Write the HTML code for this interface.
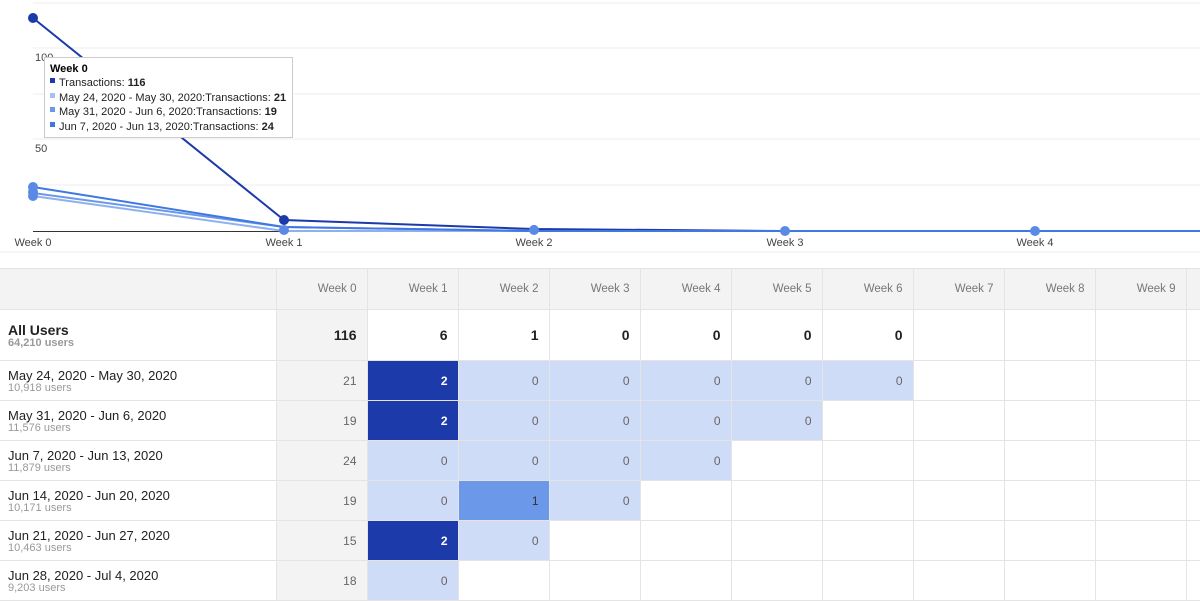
<!DOCTYPE html>
<html><head><style>
body{margin:0;width:1200px;height:600px;overflow:hidden;background:#fff;font-family:"Liberation Sans",sans-serif;position:relative}
table{position:absolute;left:0;top:268px;border-collapse:collapse;table-layout:fixed;width:1277px}
td{border:1px solid #e4e4e4;padding:0 10px 0 0;text-align:right;font-size:12px;color:#666;overflow:hidden;white-space:nowrap}
tr.h td{height:40px;background:#f3f3f3;color:#777;font-size:11.5px}
tr.a td{height:50px;font-size:14px;font-weight:bold;color:#222}
tr.r td{height:39px}
td.f{text-align:left;padding-left:8px;background:#fff;border-left:none}
td.g{background:#f3f3f3}
td.d{background:#1c3aa9;color:#fff;font-weight:bold}
td.l{background:#cfdcf7}
td.m{background:#6b98e9;color:#333}
.n{font-size:13px;color:#222}.s{font-size:11px;color:#999;line-height:11px}
tr.a .n{font-size:14px;font-weight:bold}.a .s{font-weight:bold}
</style></head><body>
<svg width="1200" height="260" style="position:absolute;left:0;top:0" font-family="Liberation Sans" font-size="11">
<g stroke="#ececec"><line x1="33" x2="1200" y1="3" y2="3"/><line x1="33" x2="1200" y1="48" y2="48"/><line x1="33" x2="1200" y1="94" y2="94"/><line x1="33" x2="1200" y1="139" y2="139"/><line x1="33" x2="1200" y1="185" y2="185"/><line x1="0" x2="1200" y1="252" y2="252"/></g>
<line x1="33" x2="1200" y1="231.5" y2="231.5" stroke="#333"/>
<text x="35" y="61" fill="#444">100</text><text x="35" y="152" fill="#444">50</text>
<g fill="#444" text-anchor="middle"><text x="33" y="246">Week 0</text><text x="284" y="246">Week 1</text><text x="534" y="246">Week 2</text><text x="785" y="246">Week 3</text><text x="1035" y="246">Week 4</text></g>
<polyline points="33,18 284,220 534,229 785,231 1035,231 1200,231" fill="none" stroke="#1c3aa9" stroke-width="2"/>
<polyline points="33,196 284,231 534,231 785,231 1035,231 1200,231" fill="none" stroke="#8fb0ef" stroke-width="2"/>
<polyline points="33,193 284,227 534,231 785,231 1035,231 1200,231" fill="none" stroke="#6b98e9" stroke-width="2"/>
<polyline points="33,187 284,227 534,231 785,231 1035,231 1200,231" fill="none" stroke="#3f78e0" stroke-width="2"/>
<g fill="#1c3aa9"><circle cx="33" cy="18" r="5"/><circle cx="284" cy="220" r="5"/><circle cx="534" cy="229" r="4"/></g>
<g fill="#5a8ae6"><circle cx="33" cy="196" r="5"/><circle cx="33" cy="192" r="5"/><circle cx="33" cy="187" r="5"/><circle cx="284" cy="230" r="5"/><circle cx="534" cy="230" r="5"/><circle cx="785" cy="231" r="5"/><circle cx="1035" cy="231" r="5"/></g>
<rect x="44.5" y="57.5" width="248" height="80" fill="#fff" stroke="#ccc"/>
<text x="50" y="72" font-weight="bold" fill="#000">Week 0</text>
<rect x="50" y="78" width="5" height="5" fill="#1c3aa9"/><text x="59" y="86" fill="#222">Transactions: <tspan font-weight="bold">116</tspan></text>
<rect x="50" y="93" width="5" height="5" fill="#a5c0f2"/><text x="59" y="101" fill="#222">May 24, 2020 - May 30, 2020:Transactions: <tspan font-weight="bold">21</tspan></text>
<rect x="50" y="107" width="5" height="5" fill="#6b98e9"/><text x="59" y="115" fill="#222">May 31, 2020 - Jun 6, 2020:Transactions: <tspan font-weight="bold">19</tspan></text>
<rect x="50" y="122" width="5" height="5" fill="#3f78e0"/><text x="59" y="130" fill="#222">Jun 7, 2020 - Jun 13, 2020:Transactions: <tspan font-weight="bold">24</tspan></text>
</svg>
<table>
<colgroup><col style="width:276px"><col span="11" style="width:91px"></colgroup>
<tr class="h"><td class="f" style="background:#f3f3f3"></td><td>Week 0</td><td>Week 1</td><td>Week 2</td><td>Week 3</td><td>Week 4</td><td>Week 5</td><td>Week 6</td><td>Week 7</td><td>Week 8</td><td>Week 9</td><td></td></tr>
<tr class="a"><td class="f"><div class="n">All Users</div><div class="s">64,210 users</div></td><td class="g">116</td><td>6</td><td>1</td><td>0</td><td>0</td><td>0</td><td>0</td><td></td><td></td><td></td><td></td></tr>
<tr class="r"><td class="f"><div class="n">May 24, 2020 - May 30, 2020</div><div class="s">10,918 users</div></td><td class="g">21</td><td class="d">2</td><td class="l">0</td><td class="l">0</td><td class="l">0</td><td class="l">0</td><td class="l">0</td><td></td><td></td><td></td><td></td></tr>
<tr class="r"><td class="f"><div class="n">May 31, 2020 - Jun 6, 2020</div><div class="s">11,576 users</div></td><td class="g">19</td><td class="d">2</td><td class="l">0</td><td class="l">0</td><td class="l">0</td><td class="l">0</td><td></td><td></td><td></td><td></td><td></td></tr>
<tr class="r"><td class="f"><div class="n">Jun 7, 2020 - Jun 13, 2020</div><div class="s">11,879 users</div></td><td class="g">24</td><td class="l">0</td><td class="l">0</td><td class="l">0</td><td class="l">0</td><td></td><td></td><td></td><td></td><td></td><td></td></tr>
<tr class="r"><td class="f"><div class="n">Jun 14, 2020 - Jun 20, 2020</div><div class="s">10,171 users</div></td><td class="g">19</td><td class="l">0</td><td class="m">1</td><td class="l">0</td><td></td><td></td><td></td><td></td><td></td><td></td><td></td></tr>
<tr class="r"><td class="f"><div class="n">Jun 21, 2020 - Jun 27, 2020</div><div class="s">10,463 users</div></td><td class="g">15</td><td class="d">2</td><td class="l">0</td><td></td><td></td><td></td><td></td><td></td><td></td><td></td><td></td></tr>
<tr class="r"><td class="f"><div class="n">Jun 28, 2020 - Jul 4, 2020</div><div class="s">9,203 users</div></td><td class="g">18</td><td class="l">0</td><td></td><td></td><td></td><td></td><td></td><td></td><td></td><td></td><td></td></tr>
</table>
</body></html>
